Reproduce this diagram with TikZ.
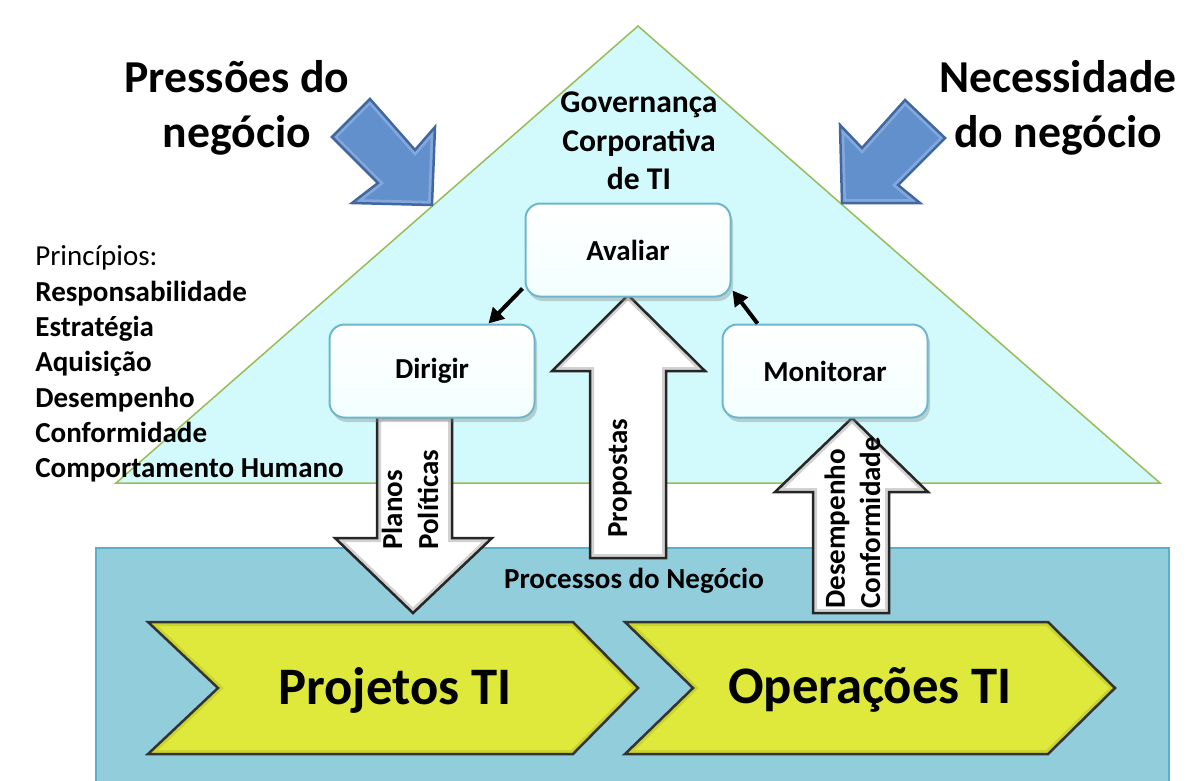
\documentclass[tikz,border=0pt]{standalone}
\usepackage{fontspec}
\setmainfont{Carlito}
\usetikzlibrary{arrows.meta,calc,shadows}
\definecolor{tricyan}{HTML}{D2FAFC}
\definecolor{triline}{HTML}{9BBB59}
\definecolor{procblue}{HTML}{92CDDC}
\definecolor{procline}{HTML}{5AAFCB}
\definecolor{chevyellow}{HTML}{DFE93C}
\definecolor{chevbevel}{HTML}{C9D42E}
\definecolor{pressblue}{HTML}{6190CD}
\definecolor{pressbevel}{HTML}{83A8DC}
\definecolor{pressline}{HTML}{41679F}
\definecolor{boxline}{HTML}{6DB6CB}
% fill, bevel colour, outline, path
\newcommand{\bevelshape}[4]{%
  \fill[#1] #4;
  \begin{scope}
    \clip #4;
    \draw[#2, line width=1.6mm, line join=miter] #4;
  \end{scope}
  \draw[#3, line width=0.5mm, line join=miter] #4;
}
\tikzset{
  govbox/.style={
    shape = rectangle,
    rounded corners = 3mm,
    draw = boxline,
    line width = 0.4mm,
    top color = white,
    bottom color = cyan!5,
    drop shadow = {shadow xshift=0.5mm, shadow yshift=-0.9mm, opacity=0.35},
    minimum width = 41mm,
    minimum height = 18.6mm,
    font = \fontsize{16.5}{20}\selectfont\bfseries
  },
  smallarrow/.style={
    line width = 0.8mm,
    -{Triangle[length=3mm,width=3.2mm]}
  },
  vlabel/.style={
    rotate = 90,
    anchor = west,
    inner sep = 0pt,
    font = \fontsize{16.5}{20}\selectfont\bfseries
  },
  titletext/.style={
    align = center,
    font = \fontsize{26}{31}\selectfont\bfseries
  },
  chevtext/.style={
    font = \fontsize{30}{34}\selectfont\bfseries
  }
}

\begin{document}
\begin{tikzpicture}[x=0.2mm, y=-0.2mm]
  \useasboundingbox (0,0) rectangle (1200,780);
  % triangle and business area
  \draw[fill=tricyan, draw=triline, line width=0.3mm] (116,483) -- (638,26) -- (1160,483) -- cycle;
  \draw[fill=procblue, draw=procline, line width=0.5mm] (96,548) rectangle (1169,784);

  % pressure arrows
  \bevelshape{pressblue}{pressbevel}{pressline}{(432,205) -- (352,203) -- (378,183) -- (332,137) -- (370,99) -- (415,150) -- (435,127) -- cycle}
  \bevelshape{pressblue}{pressbevel}{pressline}{(842,203) -- (840,125) -- (862,148) -- (905,100) -- (945,138) -- (898,185) -- (920,203) -- cycle}

  % block arrows
  \bevelshape{white}{gray!35}{black!85}{(377,417) -- (452,417) -- (452,538) -- (492,538) -- (413,613) -- (335,538) -- (377,538) -- cycle}
  \bevelshape{white}{gray!35}{black!85}{(628,295) -- (705,371) -- (666,371) -- (666,558) -- (590,558) -- (590,371) -- (552,371) -- cycle}
  \bevelshape{white}{gray!35}{black!85}{(852,418) -- (928,492) -- (889,492) -- (889,613) -- (813,613) -- (813,492) -- (775,492) -- cycle}

  % chevrons
  \bevelshape{chevyellow}{chevbevel}{black!80}{(148,622) -- (573,622) -- (638,688) -- (573,754) -- (148,754) -- (218,688) -- cycle}
  \bevelshape{chevyellow}{chevbevel}{black!80}{(625,622) -- (1048,622) -- (1115,688) -- (1048,754) -- (625,754) -- (693,688) -- cycle}

  % boxes
  \node[govbox] (avaliar) at (628,250) {Avaliar};
  \node[govbox] (dirigir) at (432,371) {Dirigir};
  \node[govbox] (monitorar) at (825,371) {Monitorar};

  \draw[smallarrow] ($(avaliar.south west)+(-2,-9)$) -- ($(dirigir.north east)+(-47,0)$);
  \draw[smallarrow] ($(monitorar.north west)+(36,0)$) -- ($(avaliar.south east)+(1,-7)$);

  % labels
  \node[titletext] (pressoes) at (237,108) {Pressões do\\negócio};
  \node[titletext] (necessidade) at (1058,108) {Necessidade\\do negócio};
  \node[align=center, font=\fontsize{18}{22}\selectfont\bfseries] (governanca) at (639,141) {Governança\\Corporativa\\de TI};
  \node[anchor=west, align=left, inner sep=0pt, font=\fontsize{16.5}{20.1}\selectfont] (principios) at (35,364)
    {Princípios:\\\textbf{Responsabilidade}\\\textbf{Estratégia}\\\textbf{Aquisição}\\\textbf{Desempenho}\\\textbf{Conformidade}\\\textbf{Comportamento Humano}};
  \node[font=\fontsize{16.5}{20}\selectfont\bfseries] (processos) at (634,581) {Processos do Negócio};

  \node[vlabel] (planos) at (392,550) {Planos};
  \node[vlabel] (politicas) at (428,550) {Políticas};
  \node[vlabel] (propostas) at (620,538) {Propostas};
  \node[vlabel] (desempenho) at (837,609) {Desempenho};
  \node[vlabel] (conformidade) at (870,609) {Conformidade};

  \node[chevtext] (projetos) at (395,690) {Projetos TI};
  \node[chevtext] (operacoes) at (870,690) {Operações TI};
\end{tikzpicture}
\end{document}
